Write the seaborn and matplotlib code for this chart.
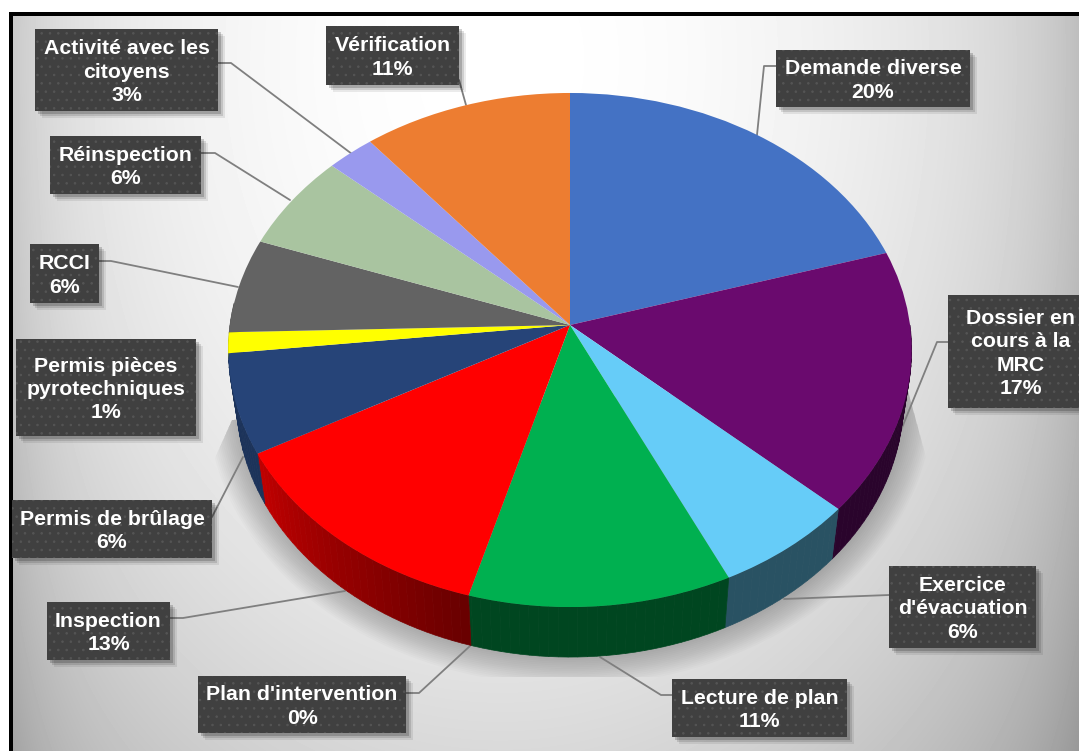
import numpy as np
import matplotlib
matplotlib.use('Agg')
import matplotlib.pyplot as plt
import matplotlib.transforms as mtransforms
from matplotlib.patches import Rectangle, Polygon
import seaborn as sns

# Slices, clockwise from 12 o'clock
categories = ['Demande diverse', 'Dossier en\ncours à la\nMRC', "Exercice\nd'évacuation",
              'Lecture de plan', "Plan d'intervention", 'Inspection', 'Permis de brûlage',
              'Permis pièces\npyrotechniques', 'RCCI', 'Réinspection',
              'Activité avec les\ncitoyens', 'Vérification']
values = [20.3, 16.5, 6.2, 11.36, 0, 12.64, 6.25, 1.3, 5.95, 6.1, 2.5, 10.9]
percent_labels = ['20%', '17%', '6%', '11%', '0%', '13%', '6%', '1%', '6%', '6%', '3%', '11%']
slice_colors = ['#4472c4', '#6a0a6e', '#66ccf8', '#00b050', '#a5a5a5', '#ff0000',
                '#264478', '#ffff00', '#636363', '#a9c4a0', '#9999ee', '#ed7d31']

# Label boxes (left, top, right, bottom) and leader lines, in picture pixels
boxes = [(776, 50, 970, 107), (948, 295, 1085, 408), (889, 566, 1036, 648),
         (672, 679, 847, 737), (198, 676, 406, 733), (47, 602, 170, 660),
         (12, 500, 212, 558), (16, 339, 196, 436), (30, 244, 99, 303),
         (50, 136, 201, 194), (35, 29, 218, 111), (326, 26, 459, 85)]
leaders = [[(776, 66), (764, 66), (757, 135)],
           [(948, 342), (937, 342), (899, 435)],
           [(889, 595), (784, 599)],
           [(672, 695), (661, 695), (600, 657)],
           [(406, 693), (419, 693), (470, 646)],
           [(170, 618), (183, 618), (345, 591)],
           [(212, 517), (243, 457)],
           None,
           [(99, 261), (111, 261), (238, 287)],
           [(201, 153), (215, 153), (290, 200)],
           [(218, 63), (231, 63), (352, 154)],
           [(459, 80), (466, 105)]]

CX, CY = 570, 325
RX, RY, TILT = 340, 254.6, 0.0973


class Perspective(mtransforms.Transform):
    # maps the unit pie onto the tilted disc
    input_dims = 2
    output_dims = 2
    is_separable = False
    has_inverse = False

    def transform_non_affine(self, xy):
        xy = np.asarray(xy, dtype=float)
        w = 1 + TILT * xy[:, 1]
        return np.column_stack([CX + RX * xy[:, 0] / w, CY - RY * xy[:, 1] / w])


def rim(theta, depth=0.0):
    # theta in degrees clockwise from the top, depth 0 = top face, 1 = bottom edge
    t = np.radians(theta)
    pts = Perspective().transform_non_affine(np.column_stack([np.sin(t), np.cos(t)]))
    pts[:, 0] = CX + (pts[:, 0] - CX) * (1 - 0.024 * depth)
    pts[:, 1] = pts[:, 1] + 50 * depth
    return pts


sns.set_theme(style='white')
plt.rcParams['font.family'] = ['Liberation Sans', 'DejaVu Sans']
plt.rcParams['hatch.linewidth'] = 0.6
palette = sns.color_palette(slice_colors)

fig = plt.figure(figsize=(10.79, 7.51), dpi=100, facecolor='white')
ax = fig.add_axes([0, 0, 1, 1])

# pie top face
wedges, _ = ax.pie(values, colors=palette, startangle=90, counterclock=False, radius=1,
                   wedgeprops=dict(linewidth=0, zorder=4))
persp = Perspective() + ax.transData
for w in wedges:
    w.set_transform(persp)

ax.set_aspect('auto')
ax.set_xlim(0, 1079)
ax.set_ylim(751, 0)
ax.axis('off')

# background
yy, xx = np.mgrid[0:751, 0:1079]
dist = np.sqrt(((xx - 500) / 600.0) ** 2 + ((yy - 60) / 800.0) ** 2)
shade = np.clip(1.0 - 0.2 * dist ** 2, 0, 1)
shade = shade - 0.08 * np.exp(-(xx - 12) / 45.0) - 0.07 * np.exp(-(1079 - xx) / 50.0)
ax.imshow(shade, cmap='gray', vmin=0, vmax=1, extent=(0, 1079, 751, 0), aspect='auto', zorder=0)
ax.add_patch(Rectangle((0, 0), 1079, 12, fc='white', lw=0, zorder=0.5))
ax.add_patch(Rectangle((0, 0), 9, 751, fc='white', lw=0, zorder=0.5))
ax.add_patch(Rectangle((9, 12), 1070, 3.5, fc='black', lw=0, zorder=0.6))
ax.add_patch(Rectangle((9, 12), 3.5, 739, fc='black', lw=0, zorder=0.6))

# soft shadow below the disc, cut off like in the picture
clip = Polygon([(905, 380), (935, 490), (935, 677), (205, 677), (205, 480), (232, 420)],
               closed=True, transform=ax.transData)
all_round = np.linspace(0, 360, 240)
for e in np.linspace(30, 1, 16):
    pts = rim(all_round, 1)
    pts[:, 0] = CX + (pts[:, 0] - CX) * (1 + e / 340.0)
    pts[:, 1] = 400 + (pts[:, 1] - 400) * (1 + e / 270.0)
    p = ax.fill(pts[:, 0], pts[:, 1], color='black', alpha=0.017, lw=0, zorder=1)[0]
    p.set_clip_path(clip)

# side wall, in thin strips so the shade can change along the rim
ends = np.cumsum(values) * 3.6
starts = ends - np.array(values) * 3.6
for start, end, col in zip(starts, ends, palette):
    if end <= 90 or start >= 275 or end <= start:
        continue
    edges = np.arange(max(start, 90), min(end, 275) + 1.5, 1.5)
    edges[-1] = min(end, 275)
    for a, b in zip(edges[:-1], edges[1:]):
        if b <= a:
            continue
        f = 0.4 + 0.35 * np.clip(((a + b) / 2 - 195) / 45.0, 0, 1)
        arc = np.array([a, b])
        quad = np.vstack([rim(arc), rim(arc[::-1], 1)])
        c = np.array(col) * f
        ax.fill(quad[:, 0], quad[:, 1], color=c, lw=0.5, zorder=3)

# leader lines
for line in leaders:
    if line is None:
        continue
    ax.plot([p[0] for p in line], [p[1] for p in line], color='#7f7f7f', lw=1.3, zorder=2,
            solid_joinstyle='round')

# labels
for box, name, pct in zip(boxes, categories, percent_labels):
    x0, y0, x1, y1 = box
    for k, a in zip([7, 5, 3], [0.08, 0.12, 0.18]):
        ax.add_patch(Rectangle((x0 + k, y0 + k), x1 - x0, y1 - y0, fc='black', alpha=a, lw=0, zorder=5))
    ax.add_patch(Rectangle((x0, y0), x1 - x0, y1 - y0, fc='#404040', ec='#555555', hatch='..',
                           lw=0, zorder=5.5))
    ax.text((x0 + x1) / 2 if x1 < 1079 else 1021, (y0 + y1) / 2 + 2, name + '\n' + pct, color='white',
            ha='center', va='center', fontsize=15.3, fontweight='bold', linespacing=1.3, zorder=6)

fig.savefig('out.png', dpi=100)
